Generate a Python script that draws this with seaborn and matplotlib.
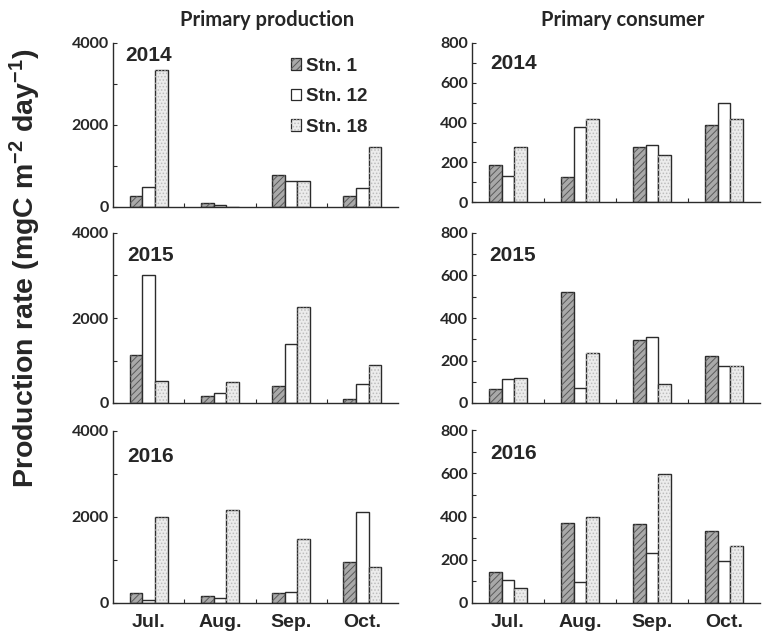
import numpy as np
import pandas as pd
import matplotlib
matplotlib.use("Agg")
import matplotlib.pyplot as plt
from matplotlib.patches import Rectangle, Patch
from matplotlib.legend_handler import HandlerTuple
from matplotlib.ticker import MultipleLocator, FixedLocator
from matplotlib.font_manager import FontProperties
import seaborn as sns

# ---- data -------------------------------------------------------------
months = ["Jul.", "Aug.", "Sep.", "Oct."]
stations = ["Stn. 1", "Stn. 12", "Stn. 18"]
years = ["2014", "2015", "2016"]

# Primary production (mgC m-2 day-1), one list per station, Jul..Oct
pp_2014_stn1 = [270, 105, 790, 270]
pp_2014_stn12 = [490, 50, 645, 455]
pp_2014_stn18 = [3330, 12, 635, 1460]

pp_2015_stn1 = [1125, 165, 395, 100]
pp_2015_stn12 = [3015, 235, 1395, 455]
pp_2015_stn18 = [510, 490, 2270, 900]

pp_2016_stn1 = [225, 160, 235, 955]
pp_2016_stn12 = [80, 110, 265, 2115]
pp_2016_stn18 = [2010, 2155, 1490, 835]

# Primary consumer production (mgC m-2 day-1)
pc_2014_stn1 = [188, 126, 278, 386]
pc_2014_stn12 = [131, 377, 285, 497]
pc_2014_stn18 = [275, 418, 238, 419]

pc_2015_stn1 = [67, 524, 298, 220]
pc_2015_stn12 = [113, 71, 311, 173]
pc_2015_stn18 = [119, 235, 91, 173]

pc_2016_stn1 = [144, 369, 364, 334]
pc_2016_stn12 = [107, 97, 232, 193]
pc_2016_stn18 = [70, 400, 598, 263]

production = {
    "2014": [pp_2014_stn1, pp_2014_stn12, pp_2014_stn18],
    "2015": [pp_2015_stn1, pp_2015_stn12, pp_2015_stn18],
    "2016": [pp_2016_stn1, pp_2016_stn12, pp_2016_stn18],
}
consumer = {
    "2014": [pc_2014_stn1, pc_2014_stn12, pc_2014_stn18],
    "2015": [pc_2015_stn1, pc_2015_stn12, pc_2015_stn18],
    "2016": [pc_2016_stn1, pc_2016_stn12, pc_2016_stn18],
}

# ---- style ------------------------------------------------------------
sns.set_theme(style="white")
plt.rcParams["font.family"] = ["Liberation Sans", "DejaVu Sans"]
plt.rcParams["mathtext.fontset"] = "custom"
plt.rcParams["mathtext.rm"] = "Liberation Sans"
plt.rcParams["mathtext.bf"] = "Liberation Sans:bold"
plt.rcParams["mathtext.default"] = "bf"
plt.rcParams["hatch.linewidth"] = 0.7

EDGE = "#2b2b2b"
face_colors = ["#a9a9a9", "#ffffff", "#ececec"]
hatch_styles = ["/////", None, "....."]
hatch_colors = ["#5a5a5a", None, "#bdbdbd"]
TICK_FONT = dict(family="Lato", weight="bold", size=11.5)


def long_frame(series):
    rows = []
    for st, vals in zip(stations, series):
        for m, v in zip(months, vals):
            rows.append({"month": m, "station": st, "value": v})
    return pd.DataFrame(rows)


def draw_panel(ax, series, ymax, major, minor, year, year_pos, show_x):
    df = long_frame(series)
    sns.barplot(data=df, x="month", y="value", hue="station",
                order=months, hue_order=stations,
                palette=face_colors, saturation=1, width=0.53,
                edgecolor=EDGE, linewidth=1.0, legend=False, ax=ax)
    for cont, hatch, hcol in zip(ax.containers, hatch_styles, hatch_colors):
        if hatch is None:
            continue
        for bar in cont:
            ax.add_patch(Rectangle(bar.get_xy(), bar.get_width(), bar.get_height(),
                                   fill=False, hatch=hatch, edgecolor=hcol,
                                   linewidth=0, zorder=bar.get_zorder() + 0.01))
    ax.set_xlim(-0.5, 3.5)
    ax.set_ylim(0, ymax)
    ax.set_xlabel("")
    ax.set_ylabel("")
    sns.despine(ax=ax)
    for s in ("left", "bottom"):
        ax.spines[s].set_color(EDGE)
        ax.spines[s].set_linewidth(1.0)
    ax.yaxis.set_major_locator(MultipleLocator(major))
    ax.yaxis.set_minor_locator(MultipleLocator(minor))
    ax.xaxis.set_minor_locator(FixedLocator([0.5, 1.5, 2.5]))
    ax.tick_params(axis="y", which="both", direction="in", length=3,
                   width=0.8, color=EDGE, left=True, pad=3)
    ax.tick_params(axis="x", which="major", length=0, pad=8)
    ax.tick_params(axis="x", which="minor", direction="in", length=3,
                   width=0.8, color=EDGE, bottom=True)
    for lab in ax.get_yticklabels():
        lab.set_fontproperties(FontProperties(**TICK_FONT))
    if show_x:
        ax.set_xticks(range(len(months)))
        ax.set_xticklabels(months, fontsize=14, fontweight="bold")
    else:
        ax.set_xticklabels([])
    ax.text(year_pos[0], year_pos[1], year, transform=ax.transAxes,
            fontsize=15, fontweight="bold", ha="left", va="center")


fig = plt.figure(figsize=(7.64, 6.35), dpi=100)
W, H = 764.0, 635.0

left_boxes = [(113, 43, 398, 207), (113, 233, 398, 403), (113, 431, 398, 603)]
right_boxes = [(472, 43, 760, 202), (472, 233, 760, 403), (472, 430, 760, 603)]
left_year = [(0.042, 0.925), (0.049, 0.87), (0.049, 0.85)]
right_year = [(0.062, 0.868), (0.059, 0.87), (0.062, 0.867)]

axes_left = []
for i, yr in enumerate(years):
    x0, y0, x1, y1 = left_boxes[i]
    ax = fig.add_axes([x0 / W, 1 - y1 / H, (x1 - x0) / W, (y1 - y0) / H])
    draw_panel(ax, production[yr], 4000, 2000, 1000, yr, left_year[i], i == 2)
    axes_left.append(ax)

for i, yr in enumerate(years):
    x0, y0, x1, y1 = right_boxes[i]
    ax = fig.add_axes([x0 / W, 1 - y1 / H, (x1 - x0) / W, (y1 - y0) / H])
    draw_panel(ax, consumer[yr], 800, 200, 100, yr, right_year[i], i == 2)

# legend: hatch overlays stacked on top of each swatch
handles = []
for fc, hatch, hcol in zip(face_colors, hatch_styles, hatch_colors):
    base = Patch(facecolor=fc, edgecolor=EDGE, linewidth=0.9)
    if hatch is None:
        handles.append(base)
    else:
        handles.append((base, Patch(fill=False, hatch=hatch, edgecolor=hcol,
                                    linewidth=0)))
axes_left[0].legend(handles, stations, handler_map={tuple: HandlerTuple(ndivide=1, pad=0)},
                    loc="upper left", bbox_to_anchor=(0.625, 0.91), frameon=False,
                    prop=dict(family="Liberation Sans", weight="bold", size=13.5),
                    handlelength=0.55, handleheight=0.55, handletextpad=0.25,
                    labelspacing=0.72, borderpad=0, borderaxespad=0)

title_font = dict(family="Lato", weight="bold", size=14.5)
fig.text(267 / W, 1 - 20 / H, "Primary production", ha="center", va="center", **title_font)
fig.text(623 / W, 1 - 20 / H, "Primary consumer", ha="center", va="center", **title_font)
fig.text(25 / W, 1 - 268 / H, r"Production rate (mgC m$^{-2}$ day$^{-1}$)",
         rotation=90, ha="center", va="center", fontsize=20.5, fontweight="bold")

fig.savefig("out.png", dpi=100)
